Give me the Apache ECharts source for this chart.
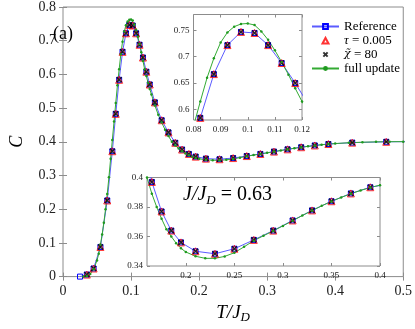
<!DOCTYPE html>
<html lang="en">
<head>
  <meta charset="UTF-8">
  <title>C vs T/J_D</title>
  <script src="https://cdn.jsdelivr.net/npm/echarts@6/dist/echarts.min.js"></script>
  <style>
    html, body { margin: 0; padding: 0; background: #fff; }
    #wrap { width: 415px; height: 329px; }
  </style>
</head>
<body>
<div id="wrap"></div>
<script>
  // reference curve (blue squares); last point lies past the axis and only carries the line to the edge
  const refT = [0.025, 0.035, 0.045, 0.055, 0.065, 0.0725, 0.0775, 0.0825, 0.0875, 0.0925, 0.0975, 0.1025, 0.1075,
    0.1125, 0.1175, 0.1225, 0.1275, 0.135, 0.145, 0.155, 0.165, 0.175, 0.185, 0.195, 0.21, 0.23, 0.25, 0.27,
    0.29, 0.31, 0.33, 0.35, 0.37, 0.39, 0.425, 0.475, 0.525]
  const refC = [0, 0.006, 0.024, 0.088, 0.226, 0.372, 0.483, 0.584, 0.667, 0.722, 0.747, 0.745, 0.722,
    0.688, 0.650, 0.608, 0.570, 0.517, 0.464, 0.428, 0.397, 0.377, 0.364, 0.356, 0.350, 0.3483, 0.3517, 0.3577,
    0.364, 0.3709, 0.3777, 0.3839, 0.3892, 0.3934, 0.3975, 0.4000, 0.4008]

  // tau = 0.005 and chi = 80 sit on the same temperatures (no point at 0.025)
  const markT = [0.035, 0.045, 0.055, 0.065, 0.0725, 0.0775, 0.0825, 0.0875, 0.0925, 0.0975, 0.1025, 0.1075,
    0.1125, 0.1175, 0.1225, 0.1275, 0.135, 0.145, 0.155, 0.165, 0.175, 0.185, 0.195, 0.21, 0.23, 0.25, 0.27,
    0.29, 0.31, 0.33, 0.35, 0.37, 0.39, 0.425, 0.475]
  const tauC = [0.006, 0.024, 0.088, 0.226, 0.372, 0.483, 0.584, 0.667, 0.722, 0.747, 0.745, 0.722,
    0.688, 0.650, 0.608, 0.570, 0.517, 0.464, 0.428, 0.397, 0.377, 0.364, 0.356, 0.350, 0.3483, 0.3517, 0.3577,
    0.364, 0.3709, 0.3777, 0.3839, 0.3892, 0.3934, 0.3975, 0.4000]
  const chiC = [0.006, 0.024, 0.088, 0.226, 0.372, 0.483, 0.584, 0.667, 0.722, 0.747, 0.745, 0.722,
    0.688, 0.650, 0.608, 0.570, 0.517, 0.464, 0.428, 0.397, 0.377, 0.364, 0.356, 0.350, 0.3483, 0.3517, 0.3577,
    0.364, 0.3709, 0.3777, 0.3839, 0.3892, 0.3934, 0.3975, 0.4000]

  // full update (green)
  const fullT = [0.03, 0.035, 0.04, 0.045, 0.05, 0.0525, 0.055, 0.0575, 0.06, 0.0625, 0.065, 0.0675, 0.07, 0.0725,
    0.075, 0.0775, 0.08, 0.0825, 0.085, 0.0875, 0.09, 0.0925, 0.095, 0.0975, 0.1, 0.1025, 0.105, 0.1075, 0.11,
    0.1125, 0.115, 0.1175, 0.12, 0.1225, 0.125, 0.1275, 0.13, 0.135, 0.14, 0.145, 0.15, 0.155, 0.16, 0.165, 0.17,
    0.175, 0.18, 0.185, 0.19, 0.195, 0.2, 0.21, 0.22, 0.23, 0.24, 0.25, 0.26, 0.27, 0.28, 0.29, 0.3, 0.31, 0.32,
    0.33, 0.34, 0.35, 0.36, 0.37, 0.38, 0.39, 0.4, 0.42, 0.44, 0.46, 0.48, 0.5]
  const fullC = [0, 0.002, 0.008, 0.022, 0.048, 0.068, 0.095, 0.125, 0.16, 0.2, 0.245, 0.295, 0.35, 0.405,
    0.46, 0.515, 0.568, 0.615, 0.66, 0.697, 0.727, 0.746, 0.757, 0.762, 0.763, 0.76, 0.748, 0.732, 0.712,
    0.69, 0.666, 0.64, 0.615, 0.595, 0.575, 0.557, 0.54, 0.508, 0.48, 0.457, 0.436, 0.417, 0.4, 0.389, 0.38,
    0.372, 0.365, 0.36, 0.3555, 0.352, 0.3495, 0.3466, 0.3452, 0.3452, 0.3465, 0.349, 0.353, 0.3572, 0.3605, 0.3638,
    0.3672, 0.3707, 0.3742, 0.3776, 0.3808, 0.3838, 0.3865, 0.389, 0.3912, 0.3932, 0.3948, 0.3972, 0.3988, 0.3998,
    0.4003, 0.4005]

  // tick values: main, peak inset, minimum inset
  const mainXTicks = [0, 0.1, 0.2, 0.3, 0.4, 0.5]
  const mainYTicks = [0, 0.1, 0.2, 0.3, 0.4, 0.5, 0.6, 0.7, 0.8]
  const peakXTicks = [0.08, 0.09, 0.1, 0.11, 0.12]
  const peakYTicks = [0.6, 0.65, 0.7, 0.75]
  const lowXTicks = [0.2, 0.25, 0.3, 0.35, 0.4]
  const lowYTicks = [0.34, 0.36, 0.38, 0.4]

  const serif = 'Liberation Serif, Times New Roman, serif'
  const gray = '#8c8c8c'
  const ink = '#222'

  const pairs = (xs, ys) => xs.map((x, i) => [x, ys[i]])

  const chart = echarts.init(document.getElementById('wrap'))

  function axisPair(dim, g, min, max, ticks, fontSize, margin, extra) {
    const base = {
      type: 'value', gridIndex: g, min: min, max: max, z: g ? 11 : 0,
      splitLine: { show: false },
      axisLine: { show: false },
      axisTick: { inside: true, length: g ? 3 : 4, customValues: ticks, lineStyle: { color: gray } }
    }
    return [
      Object.assign({}, base, {
        position: dim === 'x' ? 'bottom' : 'left',
        axisLabel: { customValues: ticks, fontSize: fontSize, margin: margin, color: ink, fontFamily: serif,
          formatter: v => String(v) }
      }, extra || {}),
      Object.assign({}, base, { position: dim === 'x' ? 'top' : 'right', axisLabel: { show: false } })
    ]
  }

  function seriesFor(g) {
    const on = { xAxisIndex: g * 2, yAxisIndex: g * 2, z: g ? 12 : 2, clip: true, animation: false }
    return [
      Object.assign({
        name: 'Reference', type: 'line', data: pairs(refT, refC),
        symbol: 'rect', symbolSize: 5, showAllSymbol: true,
        itemStyle: { color: 'rgba(0,0,0,0)', borderColor: '#0000ff', borderWidth: 1 },
        lineStyle: { color: '#5b5bff', width: 1 }
      }, on),
      Object.assign({
        name: 'τ = 0.005', type: 'scatter', data: pairs(markT, tauC),
        symbol: 'triangle', symbolSize: 7,
        itemStyle: { color: 'rgba(0,0,0,0)', borderColor: '#ff0000', borderWidth: 1 }
      }, on),
      Object.assign({
        name: 'χ̃ = 80', type: 'scatter', data: pairs(markT, chiC),
        symbol: 'path://M0,0L10,10M10,0L0,10', symbolSize: 5,
        itemStyle: { color: 'rgba(0,0,0,0)', borderColor: '#000', borderWidth: 1.5 }
      }, on),
      Object.assign({
        name: 'full update', type: 'line', data: pairs(fullT, fullC),
        symbol: 'circle', symbolSize: 2.5, showAllSymbol: true,
        itemStyle: { color: '#1f9a1f' },
        lineStyle: { color: '#33aa33', width: 1 }
      }, on)
    ]
  }

  const legendText = {
    'Reference': 'Reference',
    'τ = 0.005': '{m|τ} = 0.005',
    'χ̃ = 80': '{c|χ̃} = 80',
    'full update': 'full update'
  }

  const xMain = axisPair('x', 0, 0, 0.5, mainXTicks, 14, 8, {
    name: '{i|T/J}{s|D}', nameLocation: 'middle', nameGap: 22,
    nameTextStyle: {
      rich: {
        i: { fontFamily: serif, fontStyle: 'italic', fontSize: 19, lineHeight: 22, color: '#000' },
        s: { fontFamily: serif, fontStyle: 'italic', fontSize: 13, lineHeight: 12, verticalAlign: 'bottom', color: '#000' }
      }
    }
  })
  const yMain = axisPair('y', 0, 0, 0.8, mainYTicks, 14, 7, {
    name: 'C', nameLocation: 'middle', nameGap: 37, nameRotate: 90,
    nameTextStyle: { fontFamily: serif, fontStyle: 'italic', fontSize: 18, color: '#000' }
  })

  const ops = {
    backgroundColor: '#fff',
    animation: false,
    grid: [
      { left: 44, top: 5, width: 362.5, height: 282, show: true, borderColor: gray, borderWidth: 1, backgroundColor: 'rgba(0,0,0,0)' },
      { left: 193.5, top: 14.5, width: 108.5, height: 105.5, z: 10, show: true, borderColor: gray, borderWidth: 1, backgroundColor: '#fff' },
      { left: 147, top: 177.5, width: 233, height: 88.5, z: 10, show: true, borderColor: gray, borderWidth: 1, backgroundColor: '#fff' }
    ],
    xAxis: [].concat(
      xMain,
      axisPair('x', 1, 0.08, 0.12, peakXTicks, 9, 5),
      axisPair('x', 2, 0.16, 0.4, lowXTicks, 9, 5)
    ),
    yAxis: [].concat(
      yMain,
      axisPair('y', 1, 0.58, 0.78, peakYTicks, 9, 4),
      axisPair('y', 2, 0.34, 0.4, lowYTicks, 9, 4)
    ),
    legend: {
      orient: 'vertical', left: 306, top: 15,
      itemWidth: 27, itemHeight: 6, itemGap: 1,
      selectedMode: false,
      data: [
        { name: 'Reference' },
        // padded icon paths keep the markers small inside the 27px legend slot
        { name: 'τ = 0.005', icon: 'path://M0,0M27,7M10,7L13.5,0.5L17,7Z' },
        { name: 'χ̃ = 80', icon: 'path://M0,0M27,7M11,1L16,6M16,1L11,6' },
        { name: 'full update' }
      ],
      formatter: name => legendText[name],
      textStyle: {
        fontFamily: serif, fontSize: 13, color: '#000',
        rich: {
          m: { fontFamily: serif, fontStyle: 'italic', fontSize: 13, color: '#000' },
          c: { fontFamily: 'DejaVu Serif', fontStyle: 'italic', fontSize: 11, color: '#000' }
        }
      }
    },
    graphic: [
      { type: 'text', left: 53, top: 25, z: 50, style: { text: '(a)', font: '18px ' + serif, fill: '#000' } },
      {
        type: 'text', left: 183, top: 185, z: 50,
        style: {
          text: '{i|J/J}{s|D}{n| = 0.63}',
          rich: {
            i: { fontFamily: serif, fontStyle: 'italic', fontSize: 20, lineHeight: 24, fill: '#000' },
            s: { fontFamily: serif, fontStyle: 'italic', fontSize: 13, lineHeight: 13, verticalAlign: 'bottom', fill: '#000' },
            n: { fontFamily: serif, fontSize: 20, lineHeight: 24, fill: '#000' }
          }
        }
      }
    ],
    series: [].concat(seriesFor(0), seriesFor(1), seriesFor(2))
  }

  chart.setOption(ops)
</script>
</body>
</html>
